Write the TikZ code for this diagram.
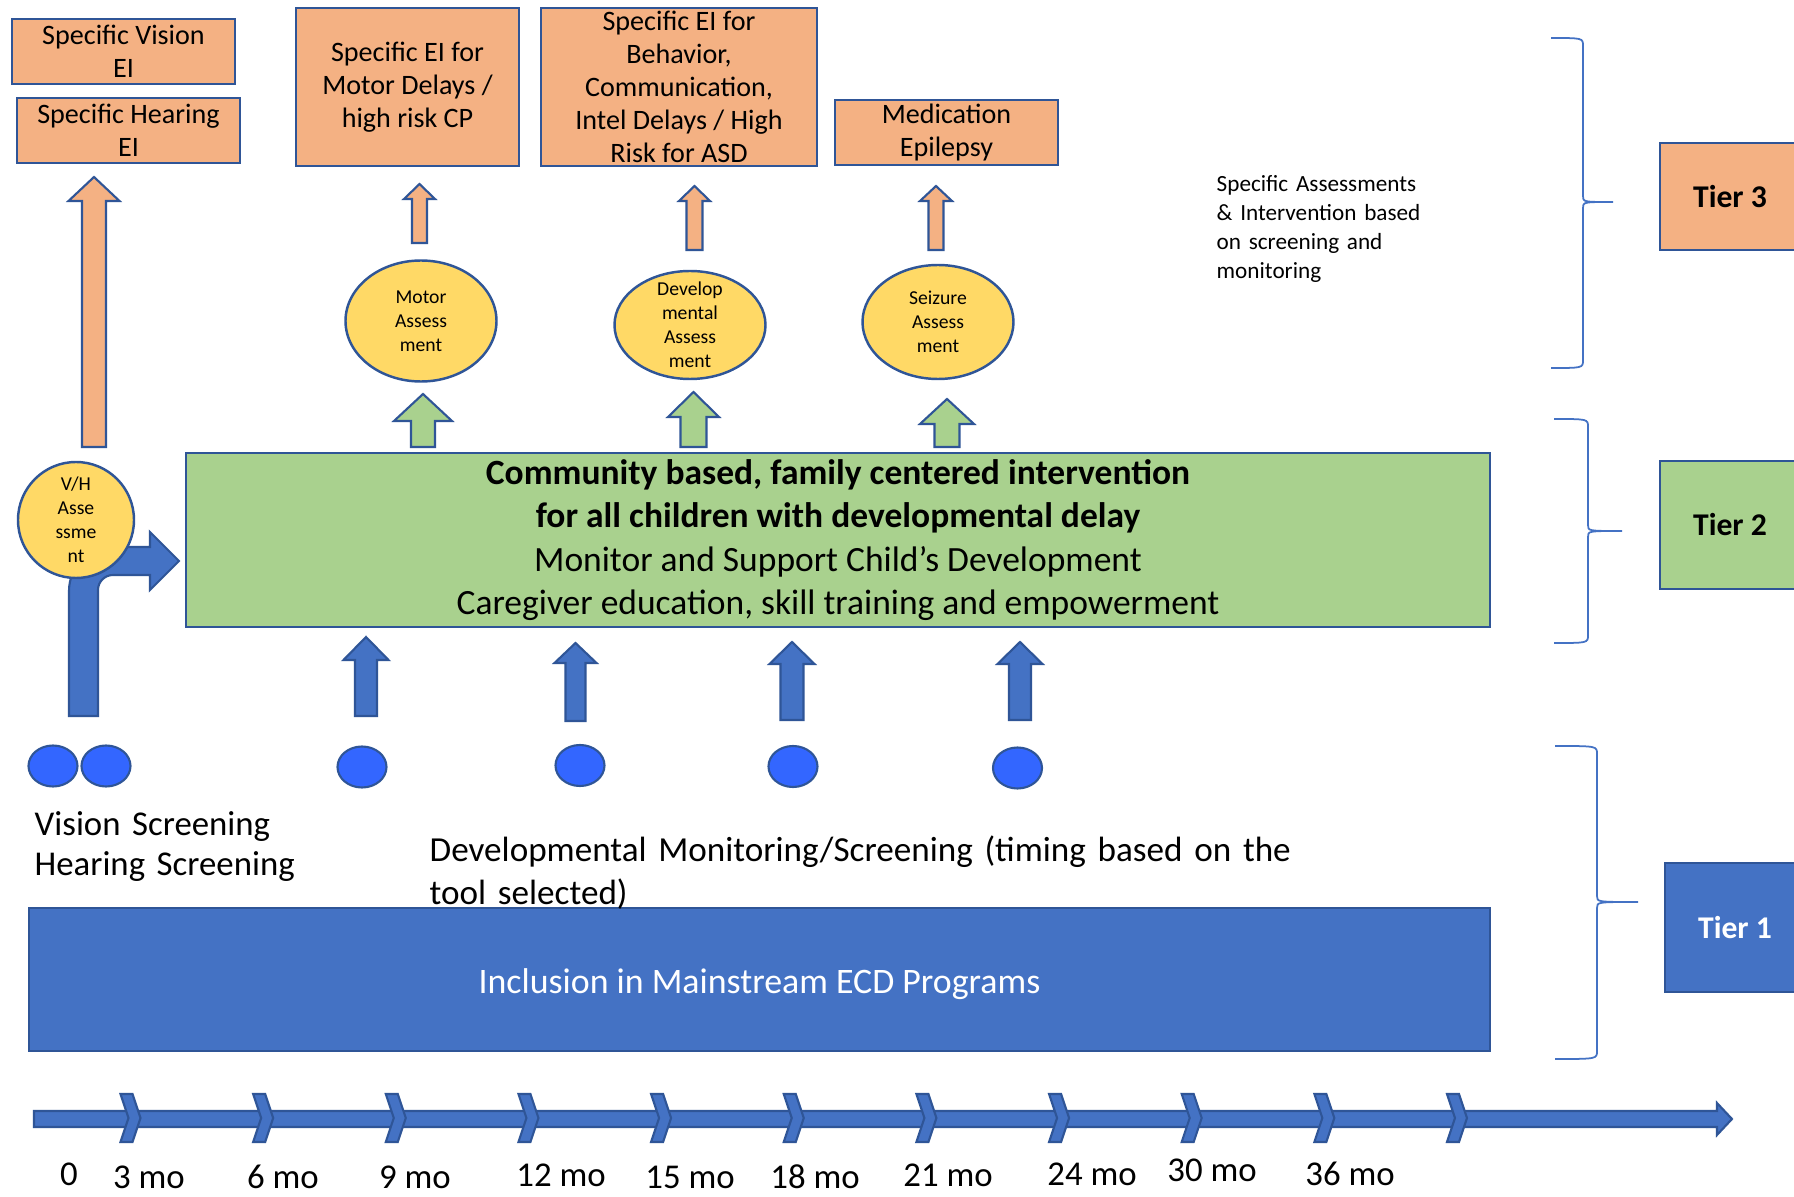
\documentclass[tikz,border=0pt]{standalone}
\usepackage{fontspec}
\setmainfont{Carlito}
\usetikzlibrary{shapes.geometric}
\definecolor{eiorange}{HTML}{F4B183}
\definecolor{edgeblue}{HTML}{2F5597}
\definecolor{tiergreen}{HTML}{A9D18E}
\definecolor{assyellow}{HTML}{FFD966}
\definecolor{ecdblue}{HTML}{4472C4}
\definecolor{dotblue}{HTML}{3366FF}
\newcommand{\blockup}[7]{%
  \filldraw[#1] (#2-#7,#5) -- (#2-#7,#4) -- (#2-#6,#4) -- (#2,#3) -- (#2+#6,#4) -- (#2+#7,#4) -- (#2+#7,#5) -- cycle;}
\newcommand{\tierbrace}[6]{%
  \draw[ecdblue,line width=0.5pt] (#1,#4) .. controls (#2,#4) .. (#2,#4-0.08) -- (#2,#5+0.06) .. controls (#2,#5) .. (#3,#5) .. controls (#2,#5) .. (#2,#5-0.06) -- (#2,#6+0.08) .. controls (#2,#6) .. (#1,#6);}

\begin{document}
\begin{tikzpicture}[
    eibox/.style={draw=edgeblue, fill=eiorange, line width=0.7pt, inner sep=0pt, align=center, font=\fontsize{8}{9.4}\selectfont},
    assess/.style={ellipse, draw=edgeblue, fill=assyellow, line width=0.7pt, inner sep=-4mm, align=center, font=\fontsize{5.6}{6.8}\selectfont},
    orarrow/.style={fill=eiorange, draw=edgeblue, line width=0.6pt},
    grarrow/.style={fill=tiergreen, draw=edgeblue, line width=0.6pt},
    blarrow/.style={fill=ecdblue, draw=edgeblue, line width=0.6pt},
    screendot/.style={ellipse, draw=edgeblue, fill=dotblue, line width=0.6pt, minimum width=0.49cm, minimum height=0.41cm, inner sep=0pt},
    tierbox/.style={draw=edgeblue, line width=0.7pt, minimum width=1.4cm, inner sep=0pt, font=\fontsize{9}{11}\selectfont\bfseries},
    lowtext/.style={anchor=base west, align=left, inner sep=0pt, font=\fontsize{9.9}{11.1}\selectfont},
    month/.style={anchor=base, inner sep=0pt, font=\fontsize{9.9}{11}\selectfont}]
      \useasboundingbox[fill=white] (0,0) rectangle (17.94,11.97);
      \filldraw[blarrow] (0.69,4.81) -- (0.69,6.06) arc (180:90:0.44) -- (1.50,6.50) -- (1.50,6.65) -- (1.79,6.36) -- (1.50,6.07) -- (1.50,6.22) -- (1.13,6.22) arc (90:180:0.15) -- (0.98,4.81) -- cycle;
      \node[eibox, minimum width=2.23cm, minimum height=0.65cm] (visionEI) at (1.235,11.455) {Specific Vision\\EI};
      \node[eibox, minimum width=2.23cm, minimum height=0.65cm] (hearingEI) at (1.285,10.665) {Specific Hearing\\EI};
      \node[eibox, minimum width=2.23cm, minimum height=1.58cm] (motorEI) at (4.075,11.10) {Specific EI for\\Motor Delays /\\high risk CP};
      \node[eibox, minimum width=2.76cm, minimum height=1.58cm] (behavEI) at (6.79,11.10) {Specific EI for\\Behavior,\\Communication,\\Intel Delays / High\\Risk for ASD};
      \node[eibox, minimum width=2.23cm, minimum height=0.65cm] (medEI) at (9.465,10.645) {Medication\\Epilepsy};
      \node[assess, minimum width=1.51cm, minimum height=1.21cm] (motorAss) at (4.21,8.76) {Motor\\Assess\\ment};
      \node[assess, minimum width=1.51cm, minimum height=1.08cm] (devAss) at (6.90,8.72) {Develop\\mental\\Assess\\ment};
      \node[assess, minimum width=1.51cm, minimum height=1.14cm] (seizAss) at (9.38,8.75) {Seizure\\Assess\\ment};
      \node[assess, circle, minimum size=1.16cm] (vhAss) at (0.76,6.77) {V/H\\Asse\\ssme\\nt};
      \node[draw=edgeblue, fill=tiergreen, line width=0.7pt, minimum width=13.04cm, minimum height=1.74cm, inner sep=0pt, align=center, font=\fontsize{10.1}{12.3}\selectfont] (commBox) at (8.38,6.57) {\textbf{Community based, family centered intervention}\\\textbf{for all children with developmental delay}\\Monitor and Support Child’s Development\\Caregiver education, skill training and empowerment};
      \node[draw=edgeblue, fill=ecdblue, line width=0.7pt, minimum width=14.61cm, minimum height=1.43cm, inner sep=0pt, text=white, font=\fontsize{10.2}{12}\selectfont] (inclBox) at (7.595,2.175) {};
      \node[text=white, inner sep=0pt, font=\fontsize{10.2}{12}\selectfont] (inclText) at (7.595,2.13) {Inclusion in Mainstream ECD Programs};
      \node[tierbox, fill=eiorange, minimum height=1.07cm] (tier3) at (17.30,10.005) {Tier 3};
      \node[tierbox, fill=tiergreen, minimum height=1.28cm] (tier2) at (17.30,6.72) {Tier 2};
      \node[tierbox, fill=ecdblue, text=white, minimum height=1.29cm] (tier1) at (17.35,2.695) {Tier 1};
      \node[lowtext, text width=3cm] (vhScreen) at (0.34,3.61) {Vision Screening\\Hearing Screening};
      \node[lowtext, text width=9.5cm, font=\fontsize{10}{12.2}\selectfont] (devScreen) at (4.29,3.35) {Developmental Monitoring/Screening (timing based on the\\tool selected)};
      \node[lowtext, text width=2.6cm, font=\fontsize{6.6}{8.2}\selectfont] (specNote) at (12.16,10.05) {Specific Assessments\\\& Intervention based\\on screening and\\monitoring};
      \node[screendot] (vDot) at (0.53,4.31) {};
      \node[screendot] (hDot) at (1.06,4.31) {};
      \foreach \x/\y [count=\i] in {3.62/4.30, 5.80/4.315, 7.93/4.305, 10.175/4.29}
        \node[screendot] (devDot\i) at (\x,\y) {};
      \blockup{orarrow}{0.94}{10.20}{9.96}{7.50}{0.255}{0.12}
      \blockup{orarrow}{4.195}{10.13}{9.98}{9.54}{0.155}{0.075}
      \blockup{orarrow}{6.945}{10.11}{9.96}{9.47}{0.155}{0.08}
      \blockup{orarrow}{9.36}{10.11}{9.96}{9.47}{0.16}{0.075}
      \blockup{grarrow}{4.23}{8.03}{7.76}{7.50}{0.29}{0.12}
      \blockup{grarrow}{6.935}{8.05}{7.80}{7.50}{0.255}{0.13}
      \blockup{grarrow}{9.47}{7.98}{7.73}{7.50}{0.27}{0.125}
      \blockup{blarrow}{3.66}{5.60}{5.37}{4.81}{0.225}{0.11}
      \blockup{blarrow}{5.755}{5.54}{5.34}{4.76}{0.21}{0.10}
      \blockup{blarrow}{7.92}{5.55}{5.33}{4.77}{0.225}{0.115}
      \blockup{blarrow}{10.20}{5.55}{5.33}{4.77}{0.225}{0.11}
      \filldraw[blarrow] (0.34,0.70) -- (17.17,0.70) -- (17.17,0.62) -- (17.32,0.78) -- (17.17,0.94) -- (17.17,0.86) -- (0.34,0.86) -- cycle;
      \foreach \k in {0,...,10}
        \filldraw[blarrow] ({1.205+1.3265*\k},1.03) -- ++(0.12,0) -- ++(0.08,-0.24) -- ++(-0.08,-0.24) -- ++(-0.12,0) -- ++(0.08,0.24) -- cycle;
      \foreach \x/\y/\t [count=\i] in {0.69/0.12/0, 1.49/0.09/3 mo, 2.83/0.09/6 mo, 4.15/0.09/9 mo, 5.61/0.11/12 mo, 6.90/0.09/15 mo, 8.15/0.09/18 mo, 9.48/0.10/21 mo, 10.92/0.12/24 mo, 12.12/0.15/30 mo, 13.50/0.12/36 mo}
        \node[month] (mo\i) at (\x,\y) {\t};
      \tierbrace{15.51}{15.83}{16.13}{11.59}{9.95}{8.29}
      \tierbrace{15.54}{15.88}{16.22}{7.78}{6.66}{5.54}
      \tierbrace{15.55}{15.97}{16.38}{4.51}{2.95}{1.38}
    \end{tikzpicture}
\end{document}
